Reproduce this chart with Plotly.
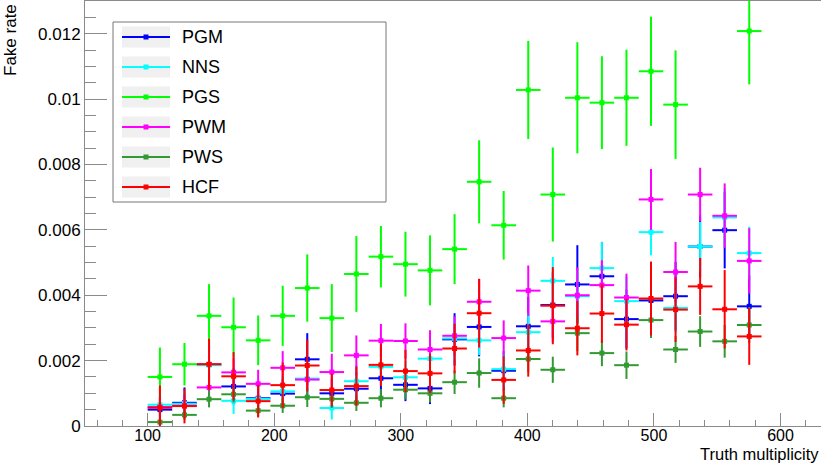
import plotly.graph_objects as go

# Truth-multiplicity bins (centres) and half bin width
mult_centres = [109.7, 129.1, 148.5, 167.9, 187.3, 206.7, 226.1, 245.5, 264.9, 284.3,
                303.7, 323.1, 342.5, 361.9, 381.3, 400.7, 420.1, 439.5, 458.9, 478.3,
                497.7, 517.1, 536.5, 555.9, 575.3]
half_bin = 9.7

# Fake rate per algorithm (units of 1e-3) and statistical errors
pgm = [0.50, 0.71, 1.88, 1.21, 0.85, 0.99, 2.04, 1.00, 1.14, 1.46, 1.26, 1.15, 2.65,
       3.03, 1.69, 3.05, 3.70, 4.33, 4.58, 3.27, 3.84, 3.97, 5.49, 5.99, 3.66]
pgm_err = [0.35, 0.47, 0.75, 0.55, 0.42, 0.45, 0.80, 0.45, 0.50, 0.60, 0.50, 0.48, 0.80,
           0.90, 0.60, 0.90, 1.00, 1.20, 1.05, 0.90, 1.05, 1.05, 0.95, 1.17, 0.95]

nns = [0.65, 0.68, 1.86, 0.77, 0.83, 1.06, 1.45, 0.55, 1.37, 1.81, 1.49, 2.06, 2.68,
       2.62, 1.74, 2.87, 4.44, 3.97, 4.83, 3.82, 5.93, 3.61, 5.49, 6.38, 5.29]
nns_err = [0.35, 0.40, 0.60, 0.40, 0.40, 0.45, 0.55, 0.35, 0.50, 0.55, 0.50, 0.55, 0.65,
           0.45, 0.55, 0.60, 0.73, 0.80, 0.80, 0.75, 0.71, 0.75, 0.75, 0.90, 0.80]

pgs = [1.50, 1.89, 3.37, 3.02, 2.62, 3.37, 4.22, 3.30, 4.65, 5.18, 4.95, 4.76, 5.41,
       7.47, 6.14, 10.28, 7.08, 10.04, 9.89, 10.04, 10.85, 9.83, None, None, 12.08]
pgs_err = [0.90, 0.65, 0.97, 0.91, 0.76, 0.92, 1.03, 1.04, 1.16, 0.94, 0.99, 1.07, 1.07,
           1.27, 1.05, 1.50, 1.44, 1.70, 1.42, 1.47, 1.67, 1.66, None, None, 1.63]

pwm = [0.58, 0.62, 1.18, 1.64, 1.29, 1.78, 1.42, 1.65, 2.16, 2.61, 2.60, 2.34, 2.76,
       3.80, 2.69, 4.14, 3.20, 4.00, 4.31, 3.93, 6.93, 4.71, 7.08, 6.43, 5.05]
pwm_err = [0.30, 0.35, 0.40, 0.45, 0.43, 0.51, 0.50, 0.56, 0.61, 0.51, 0.54, 0.59, 0.60,
           0.70, 0.54, 0.77, 0.63, 0.85, 0.76, 0.73, 0.93, 0.92, 0.82, 0.99, 1.00]

pws = [0.12, 0.34, 0.82, 0.97, 0.47, 0.62, 0.88, 0.83, 0.71, 0.85, 1.11, 1.00, 1.34,
       1.62, 0.85, 2.05, 1.72, 2.84, 2.23, 1.86, 3.24, 2.34, 2.89, 2.59, 3.09]
pws_err = [0.12, 0.15, 0.25, 0.25, 0.18, 0.22, 0.30, 0.28, 0.25, 0.28, 0.30, 0.28, 0.36,
           0.45, 0.28, 0.40, 0.40, 0.55, 0.40, 0.42, 0.55, 0.41, 0.47, 0.50, 0.55]

hcf = [0.56, 0.61, 1.89, 1.52, 0.76, 1.25, 1.85, 1.10, 1.22, 1.87, 1.68, 1.61, 2.37,
       3.45, 1.41, 2.31, 3.68, 2.99, 3.44, 3.10, 3.90, 3.56, 4.27, 3.57, 2.74]
hcf_err = [0.68, 0.53, 0.78, 0.74, 0.50, 0.69, 0.79, 0.50, 0.60, 0.65, 0.65, 0.60, 0.76,
           1.05, 0.73, 0.80, 1.18, 0.83, 0.90, 0.79, 1.13, 0.99, 0.87, 1.20, 0.87]

series = [
    ("PGM", pgm, pgm_err, "#0000ff"),
    ("NNS", nns, nns_err, "#00ffff"),
    ("PGS", pgs, pgs_err, "#00ff00"),
    ("PWM", pwm, pwm_err, "#ff00ff"),
    ("PWS", pws, pws_err, "#339933"),
    ("HCF", hcf, hcf_err, "#ff0000"),
]

FONT = "Liberation Sans, Arial, Helvetica, sans-serif"
AXIS_GREY = "#8a8a8a"

W, H = 821, 464
ML, MT, MB, MR = 85, 1, 38, 0
plot_w = W - ML - MR
plot_h = H - MT - MB


def px_x(px):
    return (px - ML) / plot_w


def px_y(py):
    return (H - MB - py) / plot_h


def scale(vals):
    return [None if v is None else v * 1e-3 for v in vals]


fig = go.Figure()
for name, vals, errs, col in series:
    fig.add_trace(go.Scatter(
        x=mult_centres, y=scale(vals), name=name, mode="markers",
        marker=dict(symbol="square", size=5, color=col),
        error_x=dict(type="constant", value=half_bin, color=col, thickness=2, width=0),
        error_y=dict(type="data", array=scale(errs), color=col, thickness=2, width=0),
        showlegend=False,
    ))

# Legend box drawn in paper coordinates
shapes = [dict(type="rect", xref="paper", yref="paper",
               x0=px_x(113), x1=px_x(386), y0=px_y(202), y1=px_y(22),
               line=dict(color="#777777", width=1), fillcolor="white", layer="above")]
annotations = []
row0, row_step = 37, 30
for k, (name, vals, errs, col) in enumerate(series):
    cy = row0 + k * row_step
    shapes.append(dict(type="rect", xref="paper", yref="paper",
                       x0=px_x(122), x1=px_x(170), y0=px_y(cy + 10.5), y1=px_y(cy - 10.5),
                       line=dict(width=0), fillcolor="#f0f0f0", layer="above"))
    shapes.append(dict(type="line", xref="paper", yref="paper",
                       x0=px_x(122), x1=px_x(170), y0=px_y(cy), y1=px_y(cy),
                       line=dict(color=col, width=2), layer="above"))
    shapes.append(dict(type="rect", xref="paper", yref="paper",
                       x0=px_x(143.5), x1=px_x(148.5), y0=px_y(cy + 2.5), y1=px_y(cy - 2.5),
                       line=dict(width=0), fillcolor=col, layer="above"))
    annotations.append(dict(xref="paper", yref="paper", x=px_x(180), y=px_y(cy),
                            xanchor="left", yanchor="middle", text=name, showarrow=False,
                            font=dict(family=FONT, size=18, color="black")))

annotations.append(dict(xref="paper", yref="paper", x=px_x(11), y=px_y(2),
                        xanchor="center", yanchor="top", text="Fake rate", textangle=-90,
                        showarrow=False, font=dict(family=FONT, size=17, color="black")))
annotations.append(dict(xref="paper", yref="paper", x=px_x(820), y=px_y(464),
                        xanchor="right", yanchor="bottom", text="Truth multiplicity",
                        showarrow=False, borderpad=0,
                        font=dict(family=FONT, size=16.5, color="black")))

fig.update_layout(
    width=W, height=H,
    margin=dict(l=ML, r=MR, t=MT, b=MB, pad=0),
    paper_bgcolor="white", plot_bgcolor="white",
    font=dict(family=FONT, size=17, color="black"),
    shapes=shapes, annotations=annotations,
    xaxis=dict(range=[50.5, 632], tick0=0, dtick=100, showgrid=False, zeroline=False,
               showline=True, linecolor=AXIS_GREY, linewidth=1, mirror=True,
               ticks="inside", ticklen=13, tickcolor=AXIS_GREY, tickwidth=1,
               ticklabelstandoff=-5,
               minor=dict(ticks="inside", ticklen=6, dtick=20, tickcolor=AXIS_GREY,
                          showgrid=False),
               tickfont=dict(family=FONT, size=16, color="black")),
    yaxis=dict(range=[0, 0.013], tick0=0, dtick=0.002, showgrid=False, zeroline=False,
               showline=True, linecolor=AXIS_GREY, linewidth=1,
               ticks="inside", ticklen=22, tickcolor=AXIS_GREY, tickwidth=1,
               minor=dict(ticks="inside", ticklen=11, dtick=0.0005, tickcolor=AXIS_GREY,
                          showgrid=False),
               tickfont=dict(family=FONT, size=17, color="black")),
)

fig.write_html("out.html")
